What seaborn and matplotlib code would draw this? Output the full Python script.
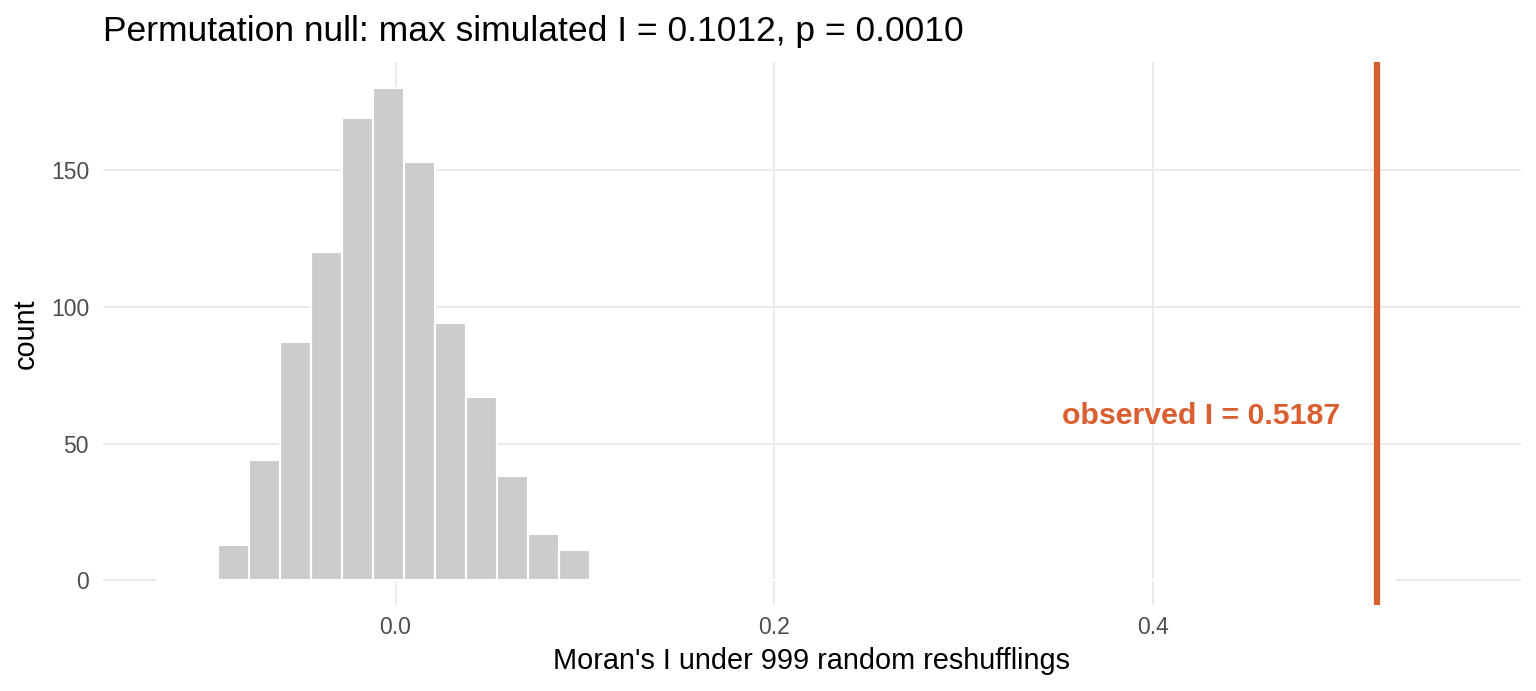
import numpy as np
import pandas as pd
import matplotlib

matplotlib.use("Agg")
import matplotlib.pyplot as plt
import seaborn as sns


# histogram of the permutation null (bin start, width, counts)
BIN_START = -0.1266
BIN_WIDTH = 0.016376
BIN_COUNTS = [0, 1, 13, 44, 87, 120, 169, 180, 153, 94, 67, 38, 17, 11] + [0] * 26

OBSERVED_I = 0.5187
MAX_SIM_I = 0.1012
P_VALUE = 0.0010
N_PERM = 999
LABEL_Y = 60

OBS_COLOR = "#D95F30"
BAR_COLOR = "#CCCCCC"
GRID_COLOR = "#EBEBEB"


def style_axis(ax):
    ax.grid(True, color=GRID_COLOR, linewidth=1.5)
    ax.set_axisbelow(True)
    for side in ["top", "right", "left", "bottom"]:
        ax.spines[side].set_visible(False)
    ax.tick_params(axis="both", length=0, labelsize=16.5, labelcolor="#4D4D4D")
    ax.tick_params(axis="x", pad=8)
    ax.tick_params(axis="y", pad=10)


def main():
    sns.set_theme(style="white")
    plt.rcParams["font.family"] = ["Liberation Sans", "DejaVu Sans"]

    n_bins = len(BIN_COUNTS)
    edges = BIN_START + BIN_WIDTH * np.arange(n_bins + 1)
    hist_df = pd.DataFrame({
        "center": (edges[:-1] + edges[1:]) / 2,
        "count": BIN_COUNTS,
    })

    fig, ax = plt.subplots(figsize=(15.36, 6.91), dpi=100)
    fig.subplots_adjust(left=0.067, right=0.990, top=0.910, bottom=0.1245)

    sns.histplot(
        data=hist_df,
        x="center",
        weights="count",
        bins=n_bins,
        binrange=(float(edges[0]), float(edges[-1])),
        color=BAR_COLOR,
        edgecolor="white",
        linewidth=1.5,
        alpha=1,
        ax=ax,
    )
    ax.axvline(OBSERVED_I, color=OBS_COLOR, linewidth=4.5)
    ax.text(
        OBSERVED_I - 0.0195,
        LABEL_Y,
        f"observed I = {OBSERVED_I:.4f}",
        color=OBS_COLOR,
        fontsize=21.8,
        fontweight="bold",
        ha="right",
        va="center",
    )

    ax.set_xlim(-0.1546, 0.5945)
    ax.set_ylim(-9, 189.4)
    ax.set_xticks([0.0, 0.2, 0.4])
    ax.set_xticklabels(["0.0", "0.2", "0.4"])
    ax.set_yticks([0, 50, 100, 150])

    style_axis(ax)
    ax.set_xlabel(f"Moran's I under {N_PERM} random reshufflings",
                  fontsize=20.8, color="black", labelpad=6)
    ax.set_ylabel("count", fontsize=20.8, color="black", labelpad=8)
    ax.set_title(
        f"Permutation null: max simulated I = {MAX_SIM_I:.4f}, p = {P_VALUE:.4f}",
        fontsize=25.5,
        color="black",
        loc="left",
        pad=15,
    )

    fig.savefig("out.png", dpi=100)
    plt.close(fig)


if __name__ == "__main__":
    main()
